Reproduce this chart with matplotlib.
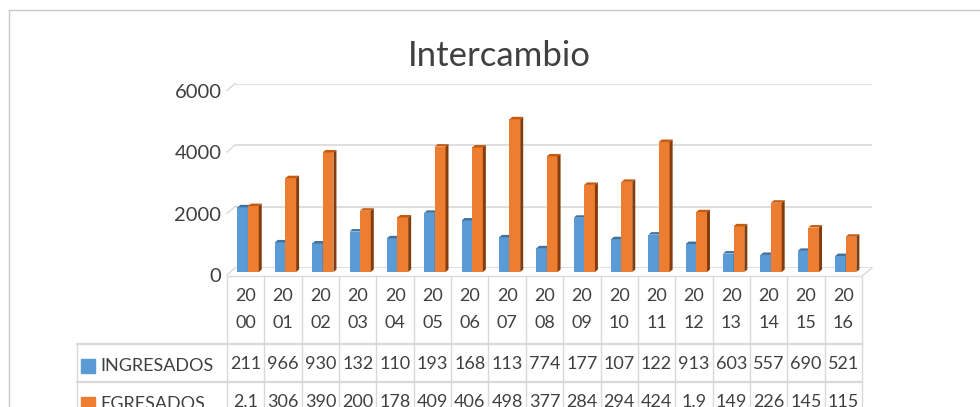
import numpy as np
import matplotlib
matplotlib.use('Agg')
import matplotlib.pyplot as plt
from matplotlib.patches import Polygon, Rectangle
from matplotlib.transforms import blended_transform_factory, ScaledTranslation

plt.rcParams['font.family'] = ['Lato', 'DejaVu Sans']

# datos
years = ['2000', '2001', '2002', '2003', '2004', '2005', '2006', '2007', '2008',
         '2009', '2010', '2011', '2012', '2013', '2014', '2015', '2016']
ingresados = [2110, 966, 930, 1320, 1100, 1930, 1680, 1130, 774,
              1770, 1070, 1220, 913, 603, 557, 690, 521]
egresados = [2150, 3060, 3900, 2000, 1780, 4090, 4060, 4980, 3770,
             2840, 2940, 4240, 1950, 1490, 2260, 1450, 1150]
# texto de la tabla tal como se ve (celdas recortadas)
ing_txt = ['211', '966', '930', '132', '110', '193', '168', '113', '774',
           '177', '107', '122', '913', '603', '557', '690', '521']
egr_txt = ['2.1', '306', '390', '200', '178', '409', '406', '498', '377',
           '284', '294', '424', '1.9', '149', '226', '145', '115']
yticks = [0, 2000, 4000, 6000]

W, H = 980, 407
TXT = '#404040'
GRID = '#D9D9D9'
BLUE, BLUE_TOP = '#5B9BD5', '#41719C'
ORANGE, ORANGE_TOP, ORANGE_SIDE = '#ED7D31', '#C55A11', '#843C0C'
FS = 13


def box(l, t, r, b):
    return [l / W, 1 - b / H, (r - l) / W, (b - t) / H]


fig = plt.figure(figsize=(9.8, 4.07), dpi=100)

# capa de pixeles para marco, tabla y titulo
ov = fig.add_axes([0, 0, 1, 1], zorder=0)
ov.set_xlim(0, W)
ov.set_ylim(H, 0)
ov.axis('off')

# pared del fondo con lineas de cuadricula
wall = fig.add_axes(box(235, 83.5, 872, 268), zorder=1)
wall.set_ylim(0, 6000)
wall.set_yticks(yticks)
wall.set_xticks([])
wall.tick_params(left=False, labelleft=False)
wall.grid(axis='y', color=GRID, lw=1.2)
for s in wall.spines.values():
    s.set_visible(False)
wall.patch.set_visible(False)

# barras
ax = fig.add_axes(box(227, 88, 862, 272), zorder=2)
ax.set_xlim(-0.5, len(years) - 0.5)
ax.set_ylim(0, 6000)
ax.patch.set_visible(False)
for s in ax.spines.values():
    s.set_visible(False)
ax.set_xticks([])
ax.set_yticks(yticks)
ax.set_yticklabels([str(v) for v in yticks])
ax.tick_params(axis='y', length=0, pad=4, labelsize=14.5, labelcolor=TXT)
shift = ScaledTranslation(0, -3 / 100, fig.dpi_scale_trans)
for lab in ax.get_yticklabels():
    lab.set_transform(lab.get_transform() + shift)

x = np.arange(len(years))
dx, dy = 0.08, 80


def bars3d(lefts, vals, w, front, top, side, z):
    ax.bar(lefts, vals, width=w, align='edge', color=front, zorder=z)
    for xl, v in zip(lefts, vals):
        ax.add_patch(Polygon([(xl, v), (xl + w, v), (xl + w + dx, v + dy), (xl + dx, v + dy)],
                             closed=True, color=top, zorder=z, lw=0))
        ax.add_patch(Polygon([(xl + w, 0), (xl + w + dx, dy), (xl + w + dx, v + dy), (xl + w, v)],
                             closed=True, color=side, zorder=z, lw=0))


bars3d(x - 0.22, ingresados, 0.28, BLUE, BLUE_TOP, BLUE_TOP, 2)
bars3d(x + 0.06, egresados, 0.29, ORANGE, ORANGE_TOP, ORANGE_SIDE, 3)

# marcas inclinadas del eje y suelo
for v in yticks:
    yb = 268 - v * 184.5 / 6000
    ov.plot([227, 235], [yb + 7, yb], color=GRID, lw=1)
ov.plot([862, 872], [276, 268], color=GRID, lw=1)

# marco exterior
ov.plot([8.5, 8.5], [9.5, 420], color='#C8C8C8', lw=1, clip_on=False)
ov.plot([8.5, 990], [9.5, 9.5], color='#C8C8C8', lw=1, clip_on=False)

ov.text(499, 56, 'Intercambio', fontsize=25, color=TXT, ha='center', va='center')

# tabla de datos
tr = blended_transform_factory(ax.transData, ov.transData)
for k in range(len(years) + 1):
    ov.plot([k - 0.5, k - 0.5], [277, 420], color=GRID, lw=1, transform=tr, clip_on=False)
ov.plot([-0.5, len(years) - 0.5], [276, 276], color=GRID, lw=1, transform=tr)
right_px = 862
for yl in [344, 382]:
    ov.plot([77, right_px], [yl, yl], color=GRID, lw=1.6)
ov.plot([77, 77], [344, 420], color=GRID, lw=1, clip_on=False)

for i, yr in enumerate(years):
    ov.text(i, 296, yr[:2], transform=tr, ha='center', va='center', fontsize=FS, color=TXT)
    ov.text(i, 323, yr[2:], transform=tr, ha='center', va='center', fontsize=FS, color=TXT)
    ov.text(i, 364, ing_txt[i], transform=tr, ha='center', va='center', fontsize=FS, color=TXT)
    ov.text(i, 402, egr_txt[i], transform=tr, ha='center', va='center', fontsize=FS, color=TXT)

ov.add_patch(Rectangle((81, 359), 14, 14, color=BLUE))
ov.add_patch(Rectangle((81, 397), 14, 14, color=ORANGE))
ov.text(100, 366, 'INGRESADOS', ha='left', va='center', fontsize=FS, color=TXT)
ov.text(100, 404, 'EGRESADOS', ha='left', va='center', fontsize=FS, color=TXT)

fig.savefig('out.png', dpi=100)
